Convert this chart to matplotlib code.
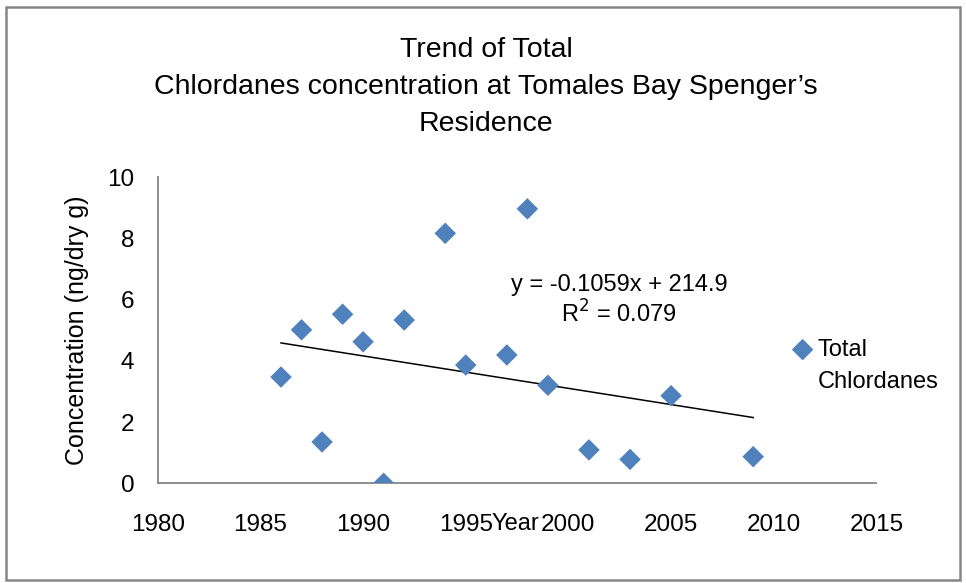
import numpy as np
import matplotlib.pyplot as plt
from matplotlib.patches import Rectangle
from matplotlib.lines import Line2D

# --- data ---
years = [1986, 1987, 1988, 1989, 1990, 1991, 1992, 1994, 1995, 1997, 1998, 1999, 2001, 2003, 2005, 2009]
chlordanes = [3.47, 5.01, 1.35, 5.52, 4.62, 0.0, 5.33, 8.16, 3.86, 4.19, 8.96, 3.20, 1.09, 0.78, 2.86, 0.87]

# linear trendline as printed on the chart
slope = -0.1059
intercept = 214.9
r_squared = 0.079

x_ticks = [1980, 1985, 1990, 1995, 2000, 2005, 2010, 2015]
y_ticks = [0, 2, 4, 6, 8, 10]

blue = '#4F81BD'
axis_gray = '#868686'
plt.rcParams['font.family'] = ['Liberation Sans', 'DejaVu Sans']

fig = plt.figure(figsize=(9.66, 5.83), dpi=100)
ax = fig.add_axes([157.8 / 966, (583 - 483.3) / 583, (876.4 - 157.8) / 966, (483.3 - 177) / 583])

# outer chart border
fig.patches.append(Rectangle((6 / 966, 3 / 583), 954 / 966, 573 / 583, transform=fig.transFigure,
                             fill=False, edgecolor=axis_gray, linewidth=1.8))

pts = ax.scatter(years, chlordanes, marker='D', s=120, color=blue, edgecolors='none', zorder=3)

tx = np.array([min(years), max(years)])
ax.plot(tx, slope * tx + intercept, color='black', linewidth=1.1, zorder=2)

ax.set_xlim(1980, 2015)
ax.set_ylim(0, 10)
ax.set_xticks(x_ticks)
ax.set_yticks(y_ticks)
ax.set_xticklabels([str(v) for v in x_ticks], fontsize=17.5)
ax.set_yticklabels([str(v) for v in y_ticks], fontsize=17.5)
ax.tick_params(length=0)
ax.tick_params(axis='x', pad=22)
ax.tick_params(axis='y', pad=17)

for s in ['top', 'right']:
    ax.spines[s].set_visible(False)
for s in ['left', 'bottom']:
    ax.spines[s].set_color(axis_gray)
    ax.spines[s].set_linewidth(1.3)

ax.set_ylabel('Concentration (ng/dry g)', fontsize=18, labelpad=13)
fig.text(515 / 966, 1 - 524 / 583, 'Year', fontsize=17, ha='center', va='center')

fig.text(486 / 966, 1 - 87 / 583, 'Trend of Total\nChlordanes concentration at Tomales Bay Spenger\u2019s\nResidence',
         fontsize=20.5, ha='center', va='center', linespacing=1.53)

ax.text(0.642, 0.595, f'y = {slope:.4f}x + {intercept}\nR$^2$ = {r_squared}',
        transform=ax.transAxes, fontsize=17, ha='center', va='center', linespacing=1.2)

# legend: marker next to first line, name wrapped like the original
blank = Line2D([], [], linestyle='none', marker=None)
ax.legend([pts, blank], ['Total', 'Chlordanes'], loc='upper left',
          bbox_to_anchor=(779 / 966, 1 - 327 / 583), bbox_transform=fig.transFigure,
          frameon=False, fontsize=17, handletextpad=0.15, handlelength=1.0, borderpad=0,
          labelspacing=0.45, scatterpoints=1)

fig.savefig('out.png', dpi=100)
